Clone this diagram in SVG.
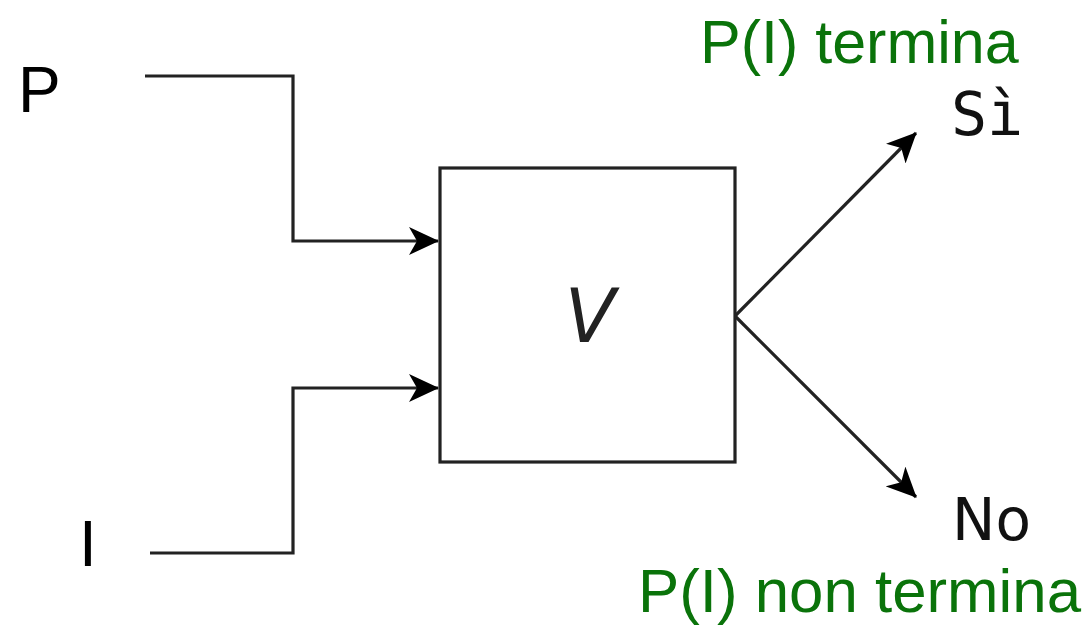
<svg xmlns="http://www.w3.org/2000/svg" width="1091" height="628" viewBox="0 0 1091 628">
<style>
.wire{fill:none;stroke:#222;stroke-width:3.2;stroke-linejoin:miter}
.lbl{font-family:"Liberation Sans",Arial,sans-serif;fill:#000}
.green{font-family:"Liberation Sans",Arial,sans-serif;fill:#0a730a}
.mono{font-family:"DejaVu Sans Mono",monospace;fill:#111;font-size:60px}
</style>
<defs>
<marker id="arr" markerUnits="userSpaceOnUse" viewBox="0 0 30 28" markerWidth="30" markerHeight="28" refX="29" refY="14" orient="auto">
<path d="M0,0 L30,14 L0,28 L8,14 Z" fill="#000"/>
</marker>
</defs>
<rect width="1091" height="628" fill="#fff"/>
<g id="connectors">
<path class="wire" d="M145,76 H293 V241 H438" marker-end="url(#arr)"/>
<path class="wire" d="M150,553 H293 V388 H438" marker-end="url(#arr)"/>
<path class="wire" d="M735,316 L916,133" marker-end="url(#arr)"/>
<path class="wire" d="M735,316 L916,497" marker-end="url(#arr)"/>
</g>
<g id="node-P"><text class="lbl" x="18" y="112" font-size="64">P</text></g>
<g id="node-I"><text class="lbl" x="79" y="566" font-size="64">I</text></g>
<g id="node-V">
<rect x="440" y="168" width="295" height="294" fill="#fff" stroke="#222" stroke-width="3.2"/>
<text x="590" y="342" text-anchor="middle" font-family="DejaVu Sans,sans-serif" font-style="italic" font-size="74" fill="#222">V</text>
</g>
<g id="node-Si">
<text class="mono" x="951" y="135">Sì</text>
<text class="green" x="700" y="63" font-size="61">P(I) termina</text>
</g>
<g id="node-No">
<text x="952" y="540" font-family="DejaVu Sans,sans-serif" font-size="58" fill="#111">No</text>
<text class="green" x="638" y="612" font-size="61" textLength="443" lengthAdjust="spacingAndGlyphs">P(I) non termina</text>
</g>
</svg>
